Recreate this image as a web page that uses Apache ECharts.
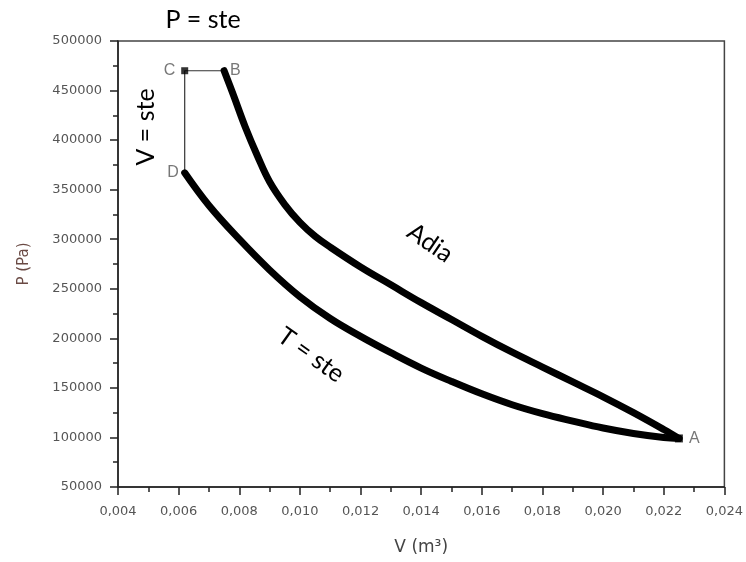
<!DOCTYPE html>
<html>
<head>
<meta charset="utf-8">
<script src="https://cdn.jsdelivr.net/npm/echarts@6/dist/echarts.min.js"></script>
<style>
  html, body { margin: 0; padding: 0; background: #fff; }
  #chart { width: 746px; height: 562px; }
</style>
</head>
<body>
<div id="chart"></div>
<script>
// points: [V (m3), P (Pa)]
var adiabatic = [
  [0.0075, 470000], [0.0078, 446000], [0.0082, 413000], [0.0086, 384000],
  [0.0090, 358000], [0.0095, 335000], [0.0100, 317000], [0.0105, 303000],
  [0.0110, 292000], [0.0120, 272000], [0.0130, 254000], [0.0140, 236000],
  [0.0150, 219000], [0.0160, 202000], [0.0170, 186000], [0.0180, 171000],
  [0.0190, 156000], [0.0200, 141000], [0.0210, 125000], [0.0220, 108000],
  [0.0225, 99000]
]
var isotherm = [
  [0.0062, 367000], [0.0070, 334000], [0.0080, 300000], [0.0090, 269000],
  [0.0100, 242000], [0.0110, 220000], [0.0120, 202000], [0.0130, 185500],
  [0.0140, 170000], [0.0150, 156500], [0.0160, 144000], [0.0170, 133000],
  [0.0180, 124000], [0.0190, 116500], [0.0200, 109500], [0.0210, 104000],
  [0.0220, 100000], [0.0225, 99000]
]
// B -> C (P = ste) then C -> D (V = ste)
var isoLines = [[0.0075, 470000], [0.0062, 470000], [0.0062, 367000]]
var corners = [
  { name: 'A', value: [0.0225, 99000], pos: 'right' },
  { name: 'B', value: [0.0075, 470000], pos: 'right' },
  { name: 'C', value: [0.0062, 470000], pos: 'left' },
  { name: 'D', value: [0.0062, 367000], pos: 'left' }
]
var xMin = 0.004, xMax = 0.024, xStep = 0.002
var yMin = 50000, yMax = 500000, yStep = 50000

var chart = echarts.init(document.getElementById('chart'))

var tickStyle = { color: '#222', width: 1.5 }

var option = {
  animation: false,
  backgroundColor: '#fff',
  grid: {
    left: 118, right: 21, top: 41, bottom: 75,
    show: true,
    borderColor: '#444',
    borderWidth: 1.5
  },
  xAxis: {
    type: 'value',
    min: xMin, max: xMax, interval: xStep,
    name: 'V (m³)',
    nameLocation: 'middle',
    nameGap: 52,
    nameTextStyle: { color: '#444', fontSize: 17, fontFamily: 'DejaVu Sans' },
    axisLine: { onZero: false, lineStyle: { color: '#222', width: 1.5 } },
    axisTick: { inside: false, length: 8, lineStyle: tickStyle },
    minorTick: { show: true, splitNumber: 2, length: 5, lineStyle: tickStyle },
    splitLine: { show: false },
    axisLabel: {
      color: '#555', fontSize: 13, fontFamily: 'DejaVu Sans', margin: 18,
      formatter: function (v) { return v.toFixed(3).replace('.', ',') }
    }
  },
  yAxis: {
    type: 'value',
    min: yMin, max: yMax, interval: yStep,
    name: 'P (Pa)',
    nameLocation: 'middle',
    nameGap: 86,
    nameTextStyle: { color: '#6a4a44', fontSize: 15, fontFamily: 'DejaVu Sans' },
    axisLine: { onZero: false, lineStyle: { color: '#222', width: 1.5 } },
    axisTick: { inside: false, length: 8, lineStyle: tickStyle },
    minorTick: { show: true, splitNumber: 2, length: 5, lineStyle: tickStyle },
    splitLine: { show: false },
    axisLabel: {
      color: '#555', fontSize: 13, fontFamily: 'DejaVu Sans', margin: 16,
      formatter: function (v) { return String(v) }
    }
  },
  series: [
    {
      name: 'iso',
      type: 'line',
      data: isoLines,
      symbol: 'none',
      lineStyle: { color: '#333', width: 1.2 }
    },
    {
      name: 'adia',
      type: 'line',
      data: adiabatic,
      smooth: 0.4,
      symbol: 'none',
      lineStyle: { color: '#000', width: 7, cap: 'round', join: 'round' }
    },
    {
      name: 'isotherm',
      type: 'line',
      data: isotherm,
      smooth: 0.4,
      symbol: 'none',
      lineStyle: { color: '#000', width: 7, cap: 'round', join: 'round' }
    },
    {
      name: 'corners',
      type: 'scatter',
      z: 5,
      data: corners.map(function (c) {
        return {
          name: c.name,
          value: c.value,
          symbol: 'rect',
          symbolSize: c.name === 'C' ? 7 : (c.name === 'A' ? 8 : 0),
          label: { position: c.pos }
        }
      }),
      itemStyle: { color: '#000' },
      label: {
        show: true,
        formatter: '{b}',
        color: '#555',
        fontSize: 16,
        fontFamily: 'Liberation Sans',
        distance: 6
      }
    }
  ],
  graphic: [
    {
      type: 'text', x: 203, y: 20,
      style: { text: 'P = ste', font: '25px Lato', fill: '#000', align: 'center', verticalAlign: 'middle' }
    },
    {
      type: 'text', x: 146, y: 127, rotation: Math.PI / 2,
      style: { text: 'V = ste', font: '25px Lato', fill: '#000', align: 'center', verticalAlign: 'middle' }
    },
    {
      type: 'text', x: 430, y: 243, rotation: -0.6,
      style: { text: 'Adia', font: '25px Lato', fill: '#000', align: 'center', verticalAlign: 'middle' }
    },
    {
      type: 'text', x: 311, y: 355, rotation: -0.62,
      style: { text: 'T = ste', font: '25px Lato', fill: '#000', align: 'center', verticalAlign: 'middle' }
    }
  ]
}

chart.setOption(option)
</script>
</body>
</html>
